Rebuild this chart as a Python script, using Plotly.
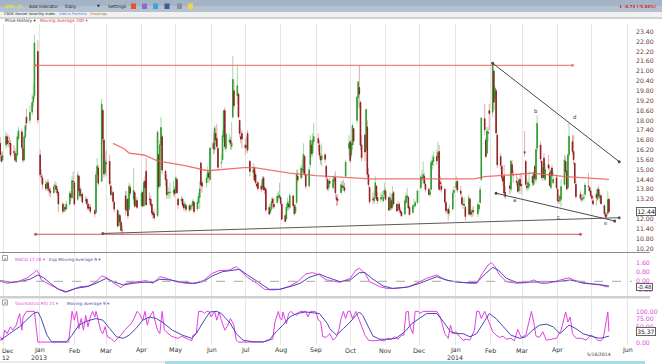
import plotly.graph_objects as go
import pandas as pd

W, H = 662, 364
PW = 632  # plot-area width in px (right margin holds the price scale)

# ---------------- data ----------------
holidays = ["2012-12-25", "2013-01-01", "2013-01-21", "2013-02-18", "2013-03-29",
            "2013-05-27", "2013-07-04", "2013-09-02", "2013-11-28", "2013-12-25",
            "2014-01-01", "2014-01-20", "2014-02-17", "2014-04-18"]
dates = [d for d in pd.bdate_range("2012-11-28", "2014-05-16")
         if d.strftime("%Y-%m-%d") not in holidays]

open_ = [
    16.60, 15.80, 15.60,
    16.50, 17.00, 16.70, 16.60, 16.60, 16.10, 16.00, 15.50, 15.90, 16.90, 17.30, 16.30, 15.60, 17.00, 18.20, 18.00, 18.50, 19.10, 19.50, 22.20,
    15.90, 14.60, 14.50, 14.10, 13.90, 14.20, 13.80, 13.70, 13.60, 14.00, 14.00, 13.80, 13.60, 12.90, 12.50, 12.70, 12.60, 12.90, 13.50, 13.30, 14.30,
    14.20, 13.20, 14.60, 13.80, 13.40, 13.50, 13.10, 13.20, 12.90, 12.70, 12.70, 12.50, 12.40, 14.70, 15.10, 14.30, 18.60, 16.80, 14.80,
    15.40, 15.50, 14.00, 13.50, 13.60, 13.00, 12.50, 11.60, 12.20, 11.80, 11.30, 13.40, 12.50, 13.20, 12.60, 13.90, 13.20, 13.60, 12.80, 13.10,
    12.80, 13.60, 12.80, 14.30, 14.90, 13.20, 13.20, 12.90, 12.40, 12.30, 12.20, 15.90, 14.00, 16.50, 17.00, 14.90, 14.40, 13.50, 13.60, 13.60, 13.60, 13.80,
    13.60, 14.40, 13.20, 13.10, 13.20, 12.90, 12.70, 12.80, 12.80, 12.60, 12.80, 12.80, 13.00, 12.60, 13.00, 13.30, 15.40, 14.20, 14.20, 14.50, 14.80, 14.40,
    16.60, 16.20, 17.20, 16.90, 16.30, 15.40, 15.60, 17.00, 18.60, 16.30, 16.70, 16.80, 16.40, 18.20, 19.80, 19.50, 19.60, 18.00, 17.00, 17.20,
    16.50, 16.40, 17.20, 15.50, 14.80, 15.10, 14.70, 14.10, 14.20, 14.00, 13.90, 14.50, 13.90, 13.80, 12.70, 12.40, 12.60, 13.20, 12.90, 13.00, 13.30, 13.30,
    13.30, 12.90, 12.20, 12.00, 12.70, 12.90, 12.70, 13.40, 12.80, 12.40, 13.00, 14.60, 14.50, 15.00, 14.80, 15.80, 14.70, 14.00, 15.30, 16.50, 16.00, 16.70,
    16.90, 16.50, 15.80, 15.60, 15.90, 15.20, 14.40, 13.90, 14.30, 13.90, 14.30, 14.50, 13.30, 13.20, 13.60, 14.00, 13.90, 13.90, 14.60, 16.30,
    16.70, 15.90, 16.50, 17.50, 18.00, 19.40, 20.00, 19.10, 16.50, 17.10, 16.20, 17.60, 14.70, 13.90, 13.20, 13.10, 13.40, 14.00, 13.30, 13.20, 13.40, 13.10, 13.50,
    13.70, 13.30, 12.60, 13.10, 12.70, 13.60, 12.90, 12.70, 12.90, 12.50, 12.40, 12.30, 13.00, 13.30, 13.30, 12.70, 12.40, 12.80, 12.80, 13.00,
    13.90, 14.40, 14.50, 14.60, 14.10, 13.80, 13.50, 13.80, 15.30, 15.50, 15.80, 15.70, 16.10, 14.20, 14.00, 13.80, 13.00, 12.60, 12.40, 12.60, 13.60,
    13.90, 14.30, 13.70, 13.30, 12.90, 12.80, 12.70, 12.30, 13.20, 12.40, 12.40, 12.50, 12.30, 12.60, 13.00, 14.40, 18.10, 16.80, 16.00, 17.20, 18.60,
    18.50, 21.00, 19.30, 19.80, 17.10, 15.80, 15.20, 14.50, 14.60, 13.60, 14.00, 13.80, 15.30, 14.70, 14.30, 14.20, 13.70, 14.40, 14.10,
    16.10, 15.50, 14.00, 13.90, 14.00, 14.60, 14.10, 15.20, 14.40, 16.30, 16.50, 15.50, 14.50, 15.70, 14.40, 15.30, 14.80, 13.90, 15.10, 14.20, 14.50,
    13.80, 13.10, 13.10, 13.20, 14.10, 15.50, 14.90, 13.90, 15.90, 16.70, 16.10, 15.40, 14.10, 13.50, 13.20, 13.20, 13.30, 13.50, 14.00, 13.90, 13.70,
    13.40, 13.10, 13.50, 13.20, 13.80, 13.30, 13.40, 12.80, 12.30, 12.20, 12.30, 13.20,
]
high = [
    17.00, 16.10, 16.10,
    17.30, 17.20, 17.10, 17.00, 16.80, 16.50, 16.30, 16.20, 17.20, 17.60, 17.50, 16.40, 17.20, 17.90, 18.70, 18.90, 19.60, 20.20, 23.23, 22.90,
    16.20, 15.00, 14.70, 14.30, 14.40, 14.40, 14.00, 13.90, 14.10, 14.30, 14.20, 14.00, 13.70, 13.00, 12.90, 12.90, 13.10, 13.70, 13.70, 14.60, 14.90,
    14.30, 14.90, 14.70, 14.00, 13.90, 13.60, 13.40, 13.30, 13.00, 12.90, 12.90, 12.60, 14.90, 15.70, 15.30, 19.30, 18.70, 16.90, 16.10,
    16.20, 15.90, 14.30, 13.90, 13.70, 13.10, 12.60, 12.50, 12.30, 11.90, 11.60, 13.70, 13.70, 13.30, 14.20, 14.10, 15.10, 13.70, 13.40, 13.30,
    13.80, 13.70, 14.40, 14.60, 15.70, 13.60, 13.40, 12.90, 12.50, 12.60, 17.40, 16.00, 16.80, 18.22, 17.20, 15.00, 14.70, 14.00, 13.90, 14.20, 14.30, 14.00,
    14.60, 14.50, 13.30, 13.40, 13.30, 13.00, 13.10, 12.90, 12.90, 12.90, 13.00, 13.20, 13.10, 13.20, 13.60, 14.30, 15.50, 14.40, 14.70, 15.20, 15.00, 16.40,
    17.20, 17.70, 17.60, 17.80, 16.40, 15.90, 17.40, 18.60, 18.80, 17.30, 17.20, 17.00, 17.90, 21.92, 20.50, 21.30, 19.70, 18.00, 17.50, 17.40,
    16.90, 17.00, 17.40, 15.60, 15.40, 15.20, 14.90, 14.20, 14.30, 14.20, 14.60, 14.60, 14.00, 13.90, 12.90, 12.90, 13.30, 13.30, 13.30, 13.60, 13.70, 14.20,
    13.40, 13.00, 12.30, 12.90, 13.30, 13.10, 13.60, 13.40, 12.90, 12.90, 15.00, 15.00, 15.30, 15.60, 16.60, 15.90, 14.80, 15.20, 17.10, 16.80, 17.20, 17.84,
    17.20, 16.80, 16.00, 16.60, 16.00, 15.30, 14.50, 14.40, 14.50, 14.60, 14.70, 14.90, 13.50, 13.50, 14.30, 14.30, 14.40, 14.20, 15.60, 17.10,
    16.80, 16.80, 17.80, 17.50, 19.50, 20.40, 21.34, 19.20, 17.10, 17.20, 18.70, 18.00, 15.10, 14.00, 13.60, 13.70, 14.60, 14.00, 13.60, 13.60, 13.70, 13.70, 14.20,
    13.90, 13.40, 13.60, 13.20, 14.00, 13.70, 12.90, 13.10, 13.00, 12.70, 12.50, 13.30, 13.60, 13.90, 13.40, 12.80, 12.90, 13.20, 13.10, 13.80,
    14.70, 15.00, 15.50, 14.80, 14.30, 13.90, 13.90, 15.60, 15.90, 16.10, 16.20, 16.70, 16.50, 14.60, 14.30, 13.90, 13.10, 12.70, 12.90, 13.80, 14.00,
    14.60, 14.30, 14.00, 13.50, 13.20, 13.30, 12.80, 13.50, 13.30, 12.50, 12.70, 12.80, 13.00, 12.90, 14.00, 18.20, 18.99, 17.00, 17.60, 17.60, 19.00,
    21.48, 21.10, 20.10, 19.90, 17.20, 16.00, 15.30, 14.60, 15.30, 14.00, 14.20, 15.60, 15.60, 15.00, 14.70, 14.50, 14.50, 14.70, 14.80,
    17.35, 15.60, 14.30, 14.40, 14.90, 14.70, 14.90, 15.30, 16.30, 18.30, 16.70, 15.60, 15.40, 16.00, 15.40, 15.90, 15.20, 15.00, 15.30, 14.90, 14.70,
    13.90, 13.40, 13.50, 14.40, 15.90, 15.80, 15.00, 16.00, 17.90, 17.10, 17.10, 15.40, 14.30, 13.70, 13.50, 13.50, 13.60, 14.20, 14.80, 14.00, 13.90,
    13.50, 13.40, 13.80, 13.90, 14.00, 13.60, 13.50, 12.90, 12.40, 12.40, 13.70, 13.30,
]
low = [
    15.70, 15.40, 15.50,
    16.30, 16.40, 16.40, 16.30, 15.80, 15.80, 15.50, 15.40, 15.80, 16.80, 16.20, 15.40, 15.50, 16.90, 17.40, 17.80, 18.30, 18.80, 19.30, 17.80,
    14.50, 14.20, 13.80, 13.70, 13.70, 13.60, 13.40, 13.30, 13.50, 13.70, 13.60, 13.40, 12.40, 12.30, 12.40, 12.40, 12.50, 12.80, 13.10, 13.20, 13.80,
    12.80, 13.10, 13.60, 13.30, 13.20, 12.90, 12.90, 12.80, 12.50, 12.50, 12.30, 12.10, 12.30, 14.20, 14.00, 14.20, 16.60, 14.50, 14.60,
    14.60, 14.00, 13.40, 13.20, 12.90, 12.40, 11.50, 11.50, 11.70, 11.20, 11.05, 12.20, 12.40, 12.00, 12.50, 13.40, 12.90, 12.70, 12.70, 12.60,
    12.70, 12.70, 12.70, 13.70, 12.80, 12.90, 12.70, 12.20, 12.00, 11.90, 12.10, 13.80, 13.90, 15.90, 14.70, 14.00, 13.20, 13.30, 13.20, 13.30, 13.40, 13.30,
    13.50, 13.50, 12.60, 12.90, 12.70, 12.50, 12.50, 12.40, 12.40, 12.50, 12.50, 12.60, 12.30, 12.50, 12.90, 12.60, 13.70, 13.60, 13.90, 14.20, 14.20, 14.30,
    15.90, 16.00, 16.50, 16.30, 15.00, 15.10, 15.50, 16.70, 16.20, 16.10, 16.50, 16.20, 16.20, 18.10, 18.70, 19.00, 18.10, 17.00, 16.60, 16.30,
    15.90, 16.10, 16.00, 14.60, 14.50, 14.30, 14.10, 13.90, 13.70, 13.60, 13.80, 13.70, 13.50, 12.40, 12.20, 12.30, 12.50, 12.70, 12.60, 12.90, 13.10, 13.20,
    12.80, 11.90, 11.80, 11.90, 12.50, 12.50, 12.60, 12.70, 12.20, 12.30, 12.90, 14.20, 14.40, 14.50, 14.70, 14.60, 13.80, 13.90, 15.10, 15.80, 15.80, 16.50,
    16.10, 15.70, 15.30, 15.20, 15.40, 14.40, 13.70, 13.70, 13.90, 13.80, 14.10, 13.30, 12.80, 12.80, 13.50, 13.70, 13.70, 13.60, 14.50, 15.80,
    15.40, 15.70, 16.20, 16.50, 17.80, 18.80, 18.70, 16.20, 15.50, 15.50, 16.10, 14.50, 13.90, 12.90, 12.90, 12.90, 13.30, 13.10, 12.90, 13.00, 13.20, 13.00, 13.30,
    13.10, 12.50, 12.50, 12.50, 12.60, 12.80, 12.40, 12.60, 12.40, 12.20, 12.10, 12.20, 12.90, 13.10, 12.60, 12.20, 12.30, 12.60, 12.70, 12.90,
    13.80, 14.10, 14.20, 14.00, 13.60, 13.40, 13.30, 13.70, 15.00, 15.20, 15.30, 15.50, 13.70, 13.70, 13.60, 12.90, 12.30, 11.90, 12.20, 12.50, 13.30,
    13.70, 13.60, 13.40, 12.80, 12.60, 12.70, 11.90, 12.20, 12.20, 12.10, 12.10, 12.20, 12.10, 12.40, 12.90, 14.30, 17.10, 15.70, 15.90, 16.70, 17.40,
    18.20, 18.70, 18.60, 17.10, 15.10, 15.00, 14.30, 14.00, 13.40, 13.20, 13.50, 13.60, 14.60, 14.20, 14.00, 13.60, 13.50, 13.70, 13.50,
    15.80, 14.00, 13.70, 13.70, 13.80, 14.00, 14.00, 14.30, 14.20, 16.10, 15.40, 14.40, 14.30, 14.50, 14.30, 15.00, 14.00, 13.80, 14.50, 14.10, 13.80,
    13.00, 12.90, 12.90, 12.70, 14.00, 14.70, 13.70, 13.80, 15.80, 15.90, 15.30, 14.10, 13.20, 13.10, 13.00, 13.10, 13.10, 13.40, 13.70, 13.60, 13.30,
    13.10, 12.80, 12.80, 13.10, 13.20, 13.00, 12.90, 12.20, 12.03, 12.05, 12.30, 12.40,
]
close = [
    15.90, 15.51, 15.87,
    17.02, 16.58, 16.69, 16.58, 15.90, 16.05, 15.57, 15.95, 17.00, 17.36, 16.35, 15.57, 17.00, 17.67, 17.84, 18.48, 19.08, 19.47, 22.72, 18.02,
    14.68, 14.56, 14.10, 13.85, 14.20, 13.81, 13.70, 13.60, 13.95, 14.05, 13.80, 13.57, 12.90, 12.46, 12.69, 12.60, 12.89, 13.57, 13.31, 14.32, 14.28,
    12.90, 14.67, 13.72, 13.41, 13.50, 13.02, 13.16, 12.94, 12.64, 12.66, 12.46, 12.31, 14.68, 15.22, 14.17, 18.99, 16.87, 14.73, 15.51,
    15.36, 14.15, 13.48, 13.53, 13.06, 12.59, 11.56, 12.27, 11.83, 11.30, 11.30, 12.56, 13.16, 12.18, 13.99, 13.57, 13.74, 12.77, 13.15, 12.70,
    13.58, 12.78, 14.21, 13.89, 12.85, 13.19, 12.84, 12.36, 12.24, 12.06, 17.27, 13.96, 16.51, 17.56, 14.97, 14.39, 13.48, 13.61, 13.62, 13.61, 13.71, 13.52,
    14.49, 13.59, 12.85, 13.21, 12.83, 12.66, 12.91, 12.59, 12.55, 12.77, 12.80, 13.07, 12.45, 13.02, 13.37, 13.82, 14.07, 13.99, 14.48, 14.83, 14.53, 16.30,
    16.27, 17.50, 16.82, 16.40, 15.14, 15.44, 17.07, 18.59, 16.41, 17.15, 16.80, 16.61, 16.64, 20.49, 18.90, 20.11, 18.21, 17.21, 16.86, 16.86,
    16.32, 16.44, 16.20, 14.89, 15.00, 14.35, 14.21, 14.01, 13.84, 13.79, 14.42, 13.78, 13.77, 12.54, 12.29, 12.59, 13.04, 12.97, 12.72, 13.39, 13.39, 13.45,
    12.94, 11.98, 11.84, 12.72, 12.98, 12.73, 13.41, 12.81, 12.31, 12.72, 14.73, 14.37, 15.10, 14.99, 15.92, 14.76, 13.98, 14.99, 16.77, 15.98, 16.81, 17.01,
    16.61, 15.88, 15.58, 15.85, 15.63, 14.53, 13.82, 14.29, 14.16, 14.38, 14.53, 13.59, 13.16, 13.12, 14.08, 13.92, 14.01, 13.74, 15.46, 16.60,
    15.54, 16.60, 17.67, 16.74, 19.41, 20.34, 19.60, 16.48, 15.72, 16.07, 18.66, 14.71, 14.08, 13.04, 13.16, 13.33, 14.20, 13.20, 13.09, 13.31, 13.41, 13.33, 13.75,
    13.19, 12.53, 13.27, 12.67, 13.50, 12.90, 12.48, 12.82, 12.52, 12.37, 12.19, 13.10, 13.39, 13.40, 12.66, 12.26, 12.79, 12.81, 12.98, 13.70,
    14.55, 14.55, 14.70, 14.15, 13.79, 13.48, 13.65, 15.42, 15.54, 15.76, 15.53, 16.03, 13.80, 14.15, 13.79, 13.04, 12.48, 12.33, 12.46, 13.56, 13.72,
    14.23, 13.76, 13.55, 12.92, 12.87, 12.89, 12.14, 13.28, 12.28, 12.28, 12.53, 12.44, 12.87, 12.84, 13.77, 18.14, 17.42, 15.80, 17.35, 17.29, 18.41,
    21.44, 19.11, 19.95, 17.23, 15.29, 15.26, 14.51, 14.30, 13.57, 13.35, 13.87, 15.50, 14.79, 14.68, 14.23, 13.67, 14.35, 14.04, 14.00,
    16.00, 14.10, 13.89, 14.21, 14.11, 14.20, 14.80, 14.47, 16.22, 17.82, 15.64, 14.52, 15.12, 14.52, 15.00, 15.09, 14.02, 14.93, 14.62, 14.41, 13.88,
    13.10, 13.09, 13.37, 13.96, 15.57, 14.89, 13.82, 15.89, 17.03, 16.11, 15.61, 14.18, 13.36, 13.25, 13.19, 13.27, 13.32, 14.06, 13.97, 13.71, 13.41,
    13.25, 12.91, 13.29, 13.80, 13.40, 13.43, 12.92, 12.32, 12.13, 12.17, 13.17, 12.44,
]
for name, arr in (("open", open_), ("high", high), ("low", low), ("close", close)):
    if len(arr) != len(dates):
        raise SystemExit(f"{name}: {len(arr)} values for {len(dates)} dates")

ma200 = [("2013-03-07", 16.60), ("2013-03-17", 16.26), ("2013-03-21", 16.01), ("2013-04-03", 15.89),
         ("2013-04-15", 15.53), ("2013-05-09", 15.24), ("2013-05-29", 14.93), ("2013-06-13", 15.02),
         ("2013-06-30", 15.12), ("2013-07-09", 15.12), ("2013-08-09", 14.78), ("2013-09-01", 14.63),
         ("2013-09-24", 14.53), ("2013-10-18", 14.43), ("2013-12-20", 14.43), ("2014-01-18", 14.43),
         ("2014-01-27", 14.57), ("2014-02-13", 14.67), ("2014-03-10", 14.78), ("2014-04-08", 14.57),
         ("2014-05-16", 14.41)]

resist_dates, resist_level = ["2012-12-29", "2014-04-14"], 21.35
floor_dates, floor_level = ["2012-12-29", "2014-04-21"], 11.06
support_dates, support_vals = ["2013-02-26", "2014-05-25"], [11.11, 12.07]
wedge_top_dates, wedge_top_vals = ["2014-02-03", "2014-05-25"], [21.48, 15.48]
wedge_low_dates, wedge_low_vals = ["2014-02-06", "2014-05-21"], [13.56, 11.87]
wave_labels = [("a", "2014-02-22", 13.15), ("b", "2014-03-13", 18.59), ("c", "2014-04-02", 12.13),
               ("d", "2014-04-16", 18.20), ("e", "2014-05-13", 11.75)]

macd = [("2012-11-28", 0.00), ("2012-12-04", -0.18), ("2012-12-13", -0.03), ("2012-12-21", 0.26),
        ("2012-12-27", 0.71), ("2012-12-30", 1.00), ("2013-01-01", 0.71), ("2013-01-03", 0.12),
        ("2013-01-11", -0.33), ("2013-01-18", -0.71), ("2013-01-24", -0.98), ("2013-01-30", -0.77),
        ("2013-02-06", -0.48), ("2013-02-14", -0.42), ("2013-02-20", -0.03), ("2013-02-25", 0.47),
        ("2013-03-01", 0.35), ("2013-03-08", -0.18), ("2013-03-14", -0.57), ("2013-03-18", -0.18),
        ("2013-03-27", -0.09), ("2013-04-05", 0.06), ("2013-04-11", -0.18), ("2013-04-17", 0.41),
        ("2013-04-23", 0.26), ("2013-05-01", -0.03), ("2013-05-10", -0.18), ("2013-05-19", -0.18),
        ("2013-05-26", 0.12), ("2013-06-02", 0.71), ("2013-06-08", 0.95), ("2013-06-17", 1.00),
        ("2013-06-23", 1.30), ("2013-06-27", 0.95), ("2013-07-03", 0.35), ("2013-07-11", -0.18),
        ("2013-07-18", -0.71), ("2013-07-25", -0.77), ("2013-08-01", -0.71), ("2013-08-09", -0.42),
        ("2013-08-16", -0.03), ("2013-08-23", 0.65), ("2013-08-29", 0.77), ("2013-09-04", 0.56),
        ("2013-09-10", 0.12), ("2013-09-13", 0.08), ("2013-09-22", -0.09), ("2013-10-01", 0.26),
        ("2013-10-06", 1.00), ("2013-10-09", 1.15), ("2013-10-14", 0.71), ("2013-10-18", -0.03),
        ("2013-10-27", -0.48), ("2013-11-02", -0.63), ("2013-11-10", -0.63), ("2013-11-22", -0.48),
        ("2013-12-01", -0.03), ("2013-12-07", 0.26), ("2013-12-16", 0.56), ("2013-12-21", 0.26),
        ("2013-12-27", 0.03), ("2014-01-05", -0.09), ("2014-01-14", -0.18), ("2014-01-20", -0.18),
        ("2014-01-25", 0.71), ("2014-01-30", 1.45), ("2014-02-02", 1.66), ("2014-02-05", 1.30),
        ("2014-02-09", 0.56), ("2014-02-15", -0.03), ("2014-02-24", -0.18), ("2014-03-05", -0.12),
        ("2014-03-11", 0.12), ("2014-03-17", -0.18), ("2014-03-23", -0.18), ("2014-03-29", -0.03),
        ("2014-04-04", 0.12), ("2014-04-11", 0.32), ("2014-04-15", 0.12), ("2014-04-24", -0.12),
        ("2014-05-03", -0.27), ("2014-05-09", -0.33), ("2014-05-13", -0.48), ("2014-05-16", -0.48)]
macd_signal = [("2012-11-28", 0.06), ("2012-12-07", -0.09), ("2012-12-15", -0.03), ("2012-12-24", 0.18),
               ("2012-12-31", 0.56), ("2013-01-05", 0.32), ("2013-01-11", -0.18), ("2013-01-18", -0.71),
               ("2013-01-25", -0.92), ("2013-02-02", -0.63), ("2013-02-12", -0.48), ("2013-02-20", -0.18),
               ("2013-03-01", 0.26), ("2013-03-07", -0.03), ("2013-03-16", -0.33), ("2013-03-24", -0.18),
               ("2013-04-02", -0.09), ("2013-04-11", -0.09), ("2013-04-17", 0.18), ("2013-04-26", 0.12),
               ("2013-05-04", -0.03), ("2013-05-16", -0.18), ("2013-05-25", -0.03), ("2013-06-02", 0.47),
               ("2013-06-11", 0.86), ("2013-06-20", 1.00), ("2013-06-26", 1.06), ("2013-07-03", 0.56),
               ("2013-07-14", -0.18), ("2013-07-22", -0.71), ("2013-07-31", -0.71), ("2013-08-09", -0.48),
               ("2013-08-18", -0.18), ("2013-08-26", 0.35), ("2013-09-04", 0.65), ("2013-09-11", 0.35),
               ("2013-09-22", -0.03), ("2013-10-01", 0.12), ("2013-10-09", 0.77), ("2013-10-14", 0.77),
               ("2013-10-21", 0.18), ("2013-10-30", -0.42), ("2013-11-07", -0.63), ("2013-11-19", -0.54),
               ("2013-12-01", -0.18), ("2013-12-10", 0.18), ("2013-12-16", 0.41), ("2013-12-24", 0.12),
               ("2014-01-02", -0.06), ("2014-01-11", -0.12), ("2014-01-20", -0.12), ("2014-01-28", 0.71),
               ("2014-02-03", 1.24), ("2014-02-08", 1.00), ("2014-02-15", 0.26), ("2014-02-24", -0.09),
               ("2014-03-08", -0.09), ("2014-03-20", -0.03), ("2014-04-01", -0.03), ("2014-04-12", 0.12),
               ("2014-04-24", -0.18), ("2014-05-06", -0.27), ("2014-05-16", -0.42)]

stoch_rsi = [("2012-11-28", 19), ("2012-11-30", 8), ("2012-12-02", 40), ("2012-12-04", 29), ("2012-12-07", 51),
             ("2012-12-09", 40), ("2012-12-12", 56), ("2012-12-15", 93), ("2012-12-17", 40), ("2012-12-18", 82),
             ("2012-12-21", 100), ("2012-12-28", 100), ("2012-12-31", 2), ("2013-01-27", 2), ("2013-01-30", 100),
             ("2013-02-01", 72), ("2013-02-03", 100), ("2013-02-05", 45), ("2013-02-07", 77), ("2013-02-09", 40),
             ("2013-02-11", 87), ("2013-02-13", 51), ("2013-02-15", 82), ("2013-02-17", 100), ("2013-02-19", 82),
             ("2013-02-20", 100), ("2013-02-22", 72), ("2013-02-24", 40), ("2013-02-26", 29), ("2013-02-28", 51),
             ("2013-03-02", 19), ("2013-03-05", 14), ("2013-03-08", 3), ("2013-03-11", 14), ("2013-03-14", 24),
             ("2013-03-17", 40), ("2013-03-20", 51), ("2013-03-23", 61), ("2013-03-26", 82), ("2013-03-28", 100),
             ("2013-03-30", 93), ("2013-04-02", 72), ("2013-04-04", 100), ("2013-04-06", 56), ("2013-04-08", 82),
             ("2013-04-11", 100), ("2013-04-13", 66), ("2013-04-15", 40), ("2013-04-17", 29), ("2013-04-19", 100),
             ("2013-04-21", 40), ("2013-04-24", 29), ("2013-04-27", 21), ("2013-04-30", 17), ("2013-05-03", 14),
             ("2013-05-06", 21), ("2013-05-09", 17), ("2013-05-12", 11), ("2013-05-15", 6), ("2013-05-16", 24),
             ("2013-05-19", 29), ("2013-05-21", 100), ("2013-05-24", 100), ("2013-05-26", 93), ("2013-05-28", 100),
             ("2013-05-30", 100), ("2013-06-01", 82), ("2013-06-04", 100), ("2013-06-06", 72), ("2013-06-08", 98),
             ("2013-06-10", 72), ("2013-06-13", 40), ("2013-06-15", 51), ("2013-06-18", 77), ("2013-06-21", 56),
             ("2013-06-23", 8), ("2013-06-25", 2), ("2013-07-17", 2), ("2013-07-20", 8), ("2013-07-25", 11),
             ("2013-07-27", 66), ("2013-07-30", 100), ("2013-07-31", 82), ("2013-08-02", 72), ("2013-08-03", 98),
             ("2013-08-06", 61), ("2013-08-08", 93), ("2013-08-10", 100), ("2013-08-12", 93), ("2013-08-15", 87),
             ("2013-08-18", 100), ("2013-08-23", 100), ("2013-08-25", 82), ("2013-08-27", 100), ("2013-08-30", 100),
             ("2013-09-01", 98), ("2013-09-03", 72), ("2013-09-05", 68), ("2013-09-07", 19), ("2013-09-10", 17),
             ("2013-09-13", 29), ("2013-09-16", 8), ("2013-09-19", 19), ("2013-09-21", 40), ("2013-09-23", 77),
             ("2013-09-25", 100), ("2013-09-27", 77), ("2013-09-29", 100), ("2013-10-01", 100), ("2013-10-03", 77),
             ("2013-10-06", 100), ("2013-10-08", 82), ("2013-10-11", 56), ("2013-10-14", 24), ("2013-10-17", 8),
             ("2013-10-21", 6), ("2013-10-27", 8), ("2013-10-31", 6), ("2013-11-03", 14), ("2013-11-06", 11),
             ("2013-11-09", 19), ("2013-11-12", 11), ("2013-11-15", 24), ("2013-11-17", 24), ("2013-11-19", 98),
             ("2013-11-21", 100), ("2013-11-22", 56), ("2013-11-25", 29), ("2013-11-27", 100), ("2013-11-30", 100),
             ("2013-12-01", 93), ("2013-12-04", 100), ("2013-12-16", 100), ("2013-12-19", 82), ("2013-12-21", 56),
             ("2013-12-23", 29), ("2013-12-26", 14), ("2013-12-28", 56), ("2013-12-30", 29), ("2014-01-02", 35),
             ("2014-01-05", 19), ("2014-01-08", 8), ("2014-01-11", 11), ("2014-01-14", 8), ("2014-01-18", 40),
             ("2014-01-20", 100), ("2014-01-22", 100), ("2014-01-24", 77), ("2014-01-27", 100), ("2014-01-29", 82),
             ("2014-01-31", 66), ("2014-02-03", 35), ("2014-02-06", 24), ("2014-02-09", 17), ("2014-02-12", 21),
             ("2014-02-15", 11), ("2014-02-19", 14), ("2014-02-22", 6), ("2014-02-25", 42), ("2014-02-28", 17),
             ("2014-03-04", 24), ("2014-03-07", 66), ("2014-03-09", 100), ("2014-03-11", 66), ("2014-03-13", 21),
             ("2014-03-16", 17), ("2014-03-19", 35), ("2014-03-22", 8), ("2014-03-26", 11), ("2014-03-31", 14),
             ("2014-04-04", 40), ("2014-04-08", 98), ("2014-04-10", 66), ("2014-04-12", 82), ("2014-04-14", 29),
             ("2014-04-17", 14), ("2014-04-22", 14), ("2014-04-26", 8), ("2014-04-30", 24), ("2014-05-03", 19),
             ("2014-05-06", 8), ("2014-05-09", 6), ("2014-05-11", 14), ("2014-05-15", 98), ("2014-05-16", 35.37)]
stoch_ma = [("2012-11-28", 8), ("2012-12-04", 24), ("2012-12-09", 35), ("2012-12-15", 51), ("2012-12-21", 72),
            ("2012-12-27", 93), ("2012-12-31", 98), ("2013-01-03", 77), ("2013-01-08", 24), ("2013-01-12", 3),
            ("2013-01-25", 3), ("2013-01-30", 24), ("2013-02-05", 56), ("2013-02-12", 69), ("2013-02-20", 77),
            ("2013-02-26", 72), ("2013-03-04", 45), ("2013-03-10", 19), ("2013-03-16", 14), ("2013-03-21", 24),
            ("2013-03-27", 45), ("2013-04-02", 72), ("2013-04-08", 82), ("2013-04-14", 77), ("2013-04-19", 66),
            ("2013-04-28", 40), ("2013-05-07", 24), ("2013-05-15", 14), ("2013-05-19", 29), ("2013-05-25", 66),
            ("2013-05-31", 98), ("2013-06-06", 100), ("2013-06-10", 93), ("2013-06-18", 61), ("2013-06-23", 29),
            ("2013-06-29", 8), ("2013-07-08", 3), ("2013-07-17", 3), ("2013-07-22", 8), ("2013-07-28", 35),
            ("2013-08-03", 56), ("2013-08-09", 82), ("2013-08-15", 93), ("2013-08-23", 98), ("2013-09-04", 93),
            ("2013-09-11", 61), ("2013-09-13", 45), ("2013-09-19", 24), ("2013-09-25", 45), ("2013-10-01", 66),
            ("2013-10-06", 87), ("2013-10-09", 98), ("2013-10-12", 87), ("2013-10-17", 51), ("2013-10-21", 21),
            ("2013-10-27", 11), ("2013-11-04", 11), ("2013-11-10", 14), ("2013-11-18", 35), ("2013-11-24", 61),
            ("2013-11-30", 77), ("2013-12-07", 93), ("2013-12-16", 93), ("2013-12-22", 66), ("2013-12-28", 35),
            ("2014-01-02", 29), ("2014-01-08", 29), ("2014-01-14", 19), ("2014-01-20", 29), ("2014-01-26", 66),
            ("2014-01-31", 93), ("2014-02-06", 77), ("2014-02-12", 51), ("2014-02-19", 24), ("2014-02-27", 14),
            ("2014-03-04", 19), ("2014-03-10", 40), ("2014-03-16", 56), ("2014-03-22", 59), ("2014-03-28", 51),
            ("2014-04-03", 29), ("2014-04-11", 56), ("2014-04-17", 45), ("2014-04-23", 29), ("2014-05-02", 19),
            ("2014-05-08", 14), ("2014-05-12", 17), ("2014-05-16", 21)]

month_ticks = ["2012-12-01", "2013-01-01", "2013-02-01", "2013-03-01", "2013-04-01", "2013-05-01",
               "2013-06-01", "2013-07-01", "2013-08-01", "2013-09-01", "2013-10-01", "2013-11-01",
               "2013-12-01", "2014-01-01", "2014-02-01", "2014-03-01", "2014-04-01", "2014-05-01",
               "2014-06-01"]
month_text = ["Dec", "Jan", "Feb", "Mar", "Apr", "May", "Jun", "Jul", "Aug", "Sep",
              "Oct", "Nov", "Dec", "Jan", "Feb", "Mar", "Apr", "", "Jun"]
year_text = [("2013-01-01", "2013"), ("2014-01-01", "2014")]
first_label = ("Dec", "12")
# price-scale labels (12.60 sits under the last-price box, as in the source)
price_ticks = [round(10.2 + 0.6 * k, 2) for k in range(23) if k != 4]
macd_ticks = [-0.8, 0.0, 0.8, 1.6]
stoch_ticks = [0, 50, 75, 100]
last_price, last_macd, last_stoch = 12.44, -0.48, 35.37
last_date_label = ("2014-05-07", "5/16/2014")

# ---------------- helpers (pixel -> paper) ----------------
def X(px):
    return px / PW

def Y(py):
    return 1 - py / H

def unzip(pairs):
    return [p[0] for p in pairs], [p[1] for p in pairs]

FONT = "DejaVu Sans"
MAG = "#e33fe3"
BLU = "#4848b0"

fig = go.Figure()

# candles: light wicks, then dark bodies
fig.add_trace(go.Candlestick(
    x=dates, open=open_, high=high, low=low, close=close,
    increasing=dict(line=dict(color="#a6d8a6", width=1), fillcolor="#a6d8a6"),
    decreasing=dict(line=dict(color="#e2abab", width=1), fillcolor="#e2abab"),
    whiskerwidth=0, xaxis="x", yaxis="y", hoverinfo="skip"))
body_hi = [max(o, c) for o, c in zip(open_, close)]
body_lo = [min(o, c) for o, c in zip(open_, close)]
fig.add_trace(go.Candlestick(
    x=dates, open=open_, high=body_hi, low=body_lo, close=close,
    increasing=dict(line=dict(color="#2c9a2c", width=0.8), fillcolor="#2c9a2c"),
    decreasing=dict(line=dict(color="#8c1c1c", width=0.8), fillcolor="#8c1c1c"),
    whiskerwidth=0, xaxis="x", yaxis="y", hoverinfo="skip"))

mx, my = unzip(ma200)
fig.add_trace(go.Scatter(x=mx, y=my, mode="lines", line=dict(color="rgba(238,90,90,0.85)", width=1.3),
                         xaxis="x", yaxis="y", hoverinfo="skip"))

def seg(xs, ys, color, width=1.0, msize=3):
    fig.add_trace(go.Scatter(x=xs, y=ys, mode="lines+markers", line=dict(color=color, width=width),
                             marker=dict(size=msize, color=color), xaxis="x", yaxis="y", hoverinfo="skip"))

seg(resist_dates, [resist_level] * 2, "rgba(240,100,100,0.8)", 1.3)
seg(floor_dates, [floor_level] * 2, "rgba(200,70,70,0.9)", 1.0)
seg(support_dates, support_vals, "#5a5a5a", 1.0)
seg(wedge_top_dates, wedge_top_vals, "#4a4a4a", 1.0)
seg(wedge_low_dates, wedge_low_vals, "#4a4a4a", 1.0)

# MACD panel
ax, ay = unzip(macd)
bx, by = unzip(macd_signal)
fig.add_trace(go.Scatter(x=ax, y=ay, mode="lines", line=dict(color=MAG, width=1), xaxis="x2", yaxis="y2", hoverinfo="skip"))
fig.add_trace(go.Scatter(x=bx, y=by, mode="lines", line=dict(color=BLU, width=1), xaxis="x2", yaxis="y2", hoverinfo="skip"))

# Stochastic RSI panel
sx, sy = unzip(stoch_rsi)
tx, ty = unzip(stoch_ma)
fig.add_trace(go.Scatter(x=sx, y=sy, mode="lines", line=dict(color=MAG, width=1), xaxis="x3", yaxis="y3", hoverinfo="skip"))
fig.add_trace(go.Scatter(x=tx, y=ty, mode="lines", line=dict(color=BLU, width=1), xaxis="x3", yaxis="y3", hoverinfo="skip"))

xrange = ["2012-11-27 19:00", "2014-06-05 05:00"]
xcommon = dict(type="date", range=xrange, tickvals=month_ticks, showgrid=True, gridcolor="#e6e6e6",
               gridwidth=1, zeroline=False, showline=False, ticks="", fixedrange=True, showticklabels=False)

shapes = []
def rect(x0, y0, x1, y1, fill, line=None):
    shapes.append(dict(type="rect", xref="paper", yref="paper", x0=X(x0), x1=X(x1), y0=Y(y1), y1=Y(y0),
                       fillcolor=fill, line=dict(width=0) if line is None else line, layer="above"))

# toolbar
rect(0, 0, 662, 12, "#a4b4c6")
rect(0, 6, 662, 12, "#b4c1cf")
rect(0, 12, 662, 17, "#f1f1f1")
rect(0, 17, 662, 19, "#d3d3d3")
for x0, col in ((131, "#e2533a"), (142, "#8a6ccf"), (153, "#33a9d6"), (164.5, "#3b5b9a"), (177, "#8b8f98"), (188, "#f0d34a")):
    rect(x0, 3.5, x0 + 5, 9, col)
# panel separators
shapes.append(dict(type="line", xref="paper", yref="paper", x0=0, x1=X(650), y0=Y(252.5), y1=Y(252.5),
                   line=dict(color="#8d8d8d", width=1)))
rect(0, 296, 650, 298.5, "#cfcfcf")
for yy in (255.5, 300):
    rect(2.5, yy, 7.5, yy + 5, "white", line=dict(color="#888", width=0.8))
# scrollbar
rect(0, 361.5, 165, 362.5, "#d8d8d8")
rect(165, 361, 645, 364, "#a6dde1")
# MACD zero line
shapes.append(dict(type="line", xref="x2 domain", yref="y2", x0=0, x1=1, y0=0, y1=0,
                   line=dict(color="#a8a8a8", width=1, dash="dash")))

ann = []
def txt(x, y, s, color="#222", size=4.3, xanchor="left", **kw):
    ann.append(dict(xref="paper", yref="paper", x=X(x), y=Y(y), text=s, showarrow=False,
                    xanchor=xanchor, yanchor="middle", font=dict(family=FONT, size=size, color=color), **kw))

txt(3, 6, "<b>VIX~X</b>", "#e9e11f", 4.6)
txt(27, 6, "Add Indicator", "#1c1c1c", 4.4)
txt(63, 6, "Daily", "#1c1c1c", 4.4)
txt(95, 6, "▼", "#1c1c1c", 3.6)
txt(106, 6, "Settings", "#1c1c1c", 4.4)
txt(658, 6, "<b>⬇ -0.73 (-5.54%)</b>", "#d02525", 4.0, xanchor="right")
txt(2, 14.4, "CBOE Market Volatility Index", "#222", 3.6)
txt(57, 14.4, "Add to Portfolio", "#4a80d4", 3.6)
txt(88, 14.4, "Drawings", "#c27531", 3.6)
txt(3, 20.6, "Price History ▾", "#222", 4.3)
txt(38, 20.6, "Moving Average 200 ▾", "#e23434", 4.3)
txt(12.5, 259, "MACD 12 26 ▾", MAG, 4.3)
txt(46.5, 259, "Exp Moving Average 9 ▾", BLU, 4.3)
txt(12.5, 303, "Stochastics RSI 21 ▾", MAG, 4.3)
txt(65, 303, "Moving Average 9 ▾", BLU, 4.3)
txt(5, 258, "x", "#555", 4.0, xanchor="center")
txt(5, 302.5, "x", "#555", 4.0, xanchor="center")

# month / year labels under the bottom panel
for d, s in list(zip(month_ticks, month_text))[1:]:
    if s:
        ann.append(dict(xref="x3", yref="paper", x=d, y=Y(350), text=s, showarrow=False, xanchor="center",
                        yanchor="middle", font=dict(family=FONT, size=6.3, color="#333")))
txt(0.3, 350, first_label[0], "#333", 6.0)
txt(0.3, 357.5, first_label[1], "#333", 6.0)
for d, s in year_text:
    ann.append(dict(xref="x3", yref="paper", x=d, y=Y(357.5), text=s, showarrow=False, xanchor="center",
                    yanchor="middle", font=dict(family=FONT, size=6.3, color="#333")))
ann.append(dict(xref="x3", yref="paper", x=last_date_label[0], y=Y(354), text=last_date_label[1],
                showarrow=False, xanchor="center", yanchor="middle", font=dict(family=FONT, size=4.6, color="#333")))

for lab, d, v in wave_labels:
    ann.append(dict(xref="x", yref="y", x=d, y=v, text=lab, showarrow=False,
                    font=dict(family=FONT, size=5.5, color="#444")))

for val, yref, fs in ((last_price, "y", 6.2), (last_macd, "y2", 5.6), (last_stoch, "y3", 6.0)):
    ann.append(dict(xref="paper", yref=yref, x=X(635.5), y=val, text=f"{val:.2f}", showarrow=False,
                    xanchor="left", yanchor="middle", bgcolor="white", bordercolor="#555", borderwidth=0.9,
                    borderpad=0.3, font=dict(family=FONT, size=fs, color="#222")))

fig.update_layout(
    width=W, height=H, margin=dict(l=0, r=W - PW, t=0, b=0, autoexpand=False),
    paper_bgcolor="white", plot_bgcolor="white", showlegend=False, hovermode=False,
    font=dict(family=FONT),
    xaxis=dict(**xcommon, domain=[0, 1], anchor="y", rangeslider=dict(visible=False)),
    xaxis2=dict(**xcommon, domain=[0, 1], anchor="y2", matches="x"),
    xaxis3=dict(**xcommon, domain=[0, 1], anchor="y3", matches="x"),
    yaxis=dict(domain=[Y(252), Y(24)], range=[9.98, 23.87], side="right", tickvals=price_ticks,
               ticktext=[f"{v:.2f}" for v in price_ticks], showgrid=False, zeroline=False, ticks="",
               tickfont=dict(family=FONT, size=6.2, color="#6a3838"), ticklabelstandoff=3, fixedrange=True),
    yaxis2=dict(domain=[Y(296), Y(253)], range=[-1.307, 2.516], side="right", tickvals=macd_ticks,
                ticktext=[f"{v:.2f}" for v in macd_ticks], showgrid=False, zeroline=False, ticks="",
                tickfont=dict(family=FONT, size=6.2, color=MAG), ticklabelstandoff=3, fixedrange=True),
    yaxis3=dict(domain=[Y(345), Y(298.5)], range=[-7.3, 141], side="right", tickvals=stoch_ticks,
                ticktext=[f"{v:.2f}" for v in stoch_ticks], showgrid=False, zeroline=False, ticks="",
                tickfont=dict(family=FONT, size=6.2, color=MAG), ticklabelstandoff=3, fixedrange=True),
    shapes=shapes, annotations=ann,
)

fig.write_html("out.html", config={"displayModeBar": False},
               post_script="document.body.style.margin='0px';document.body.style.overflow='hidden';")
